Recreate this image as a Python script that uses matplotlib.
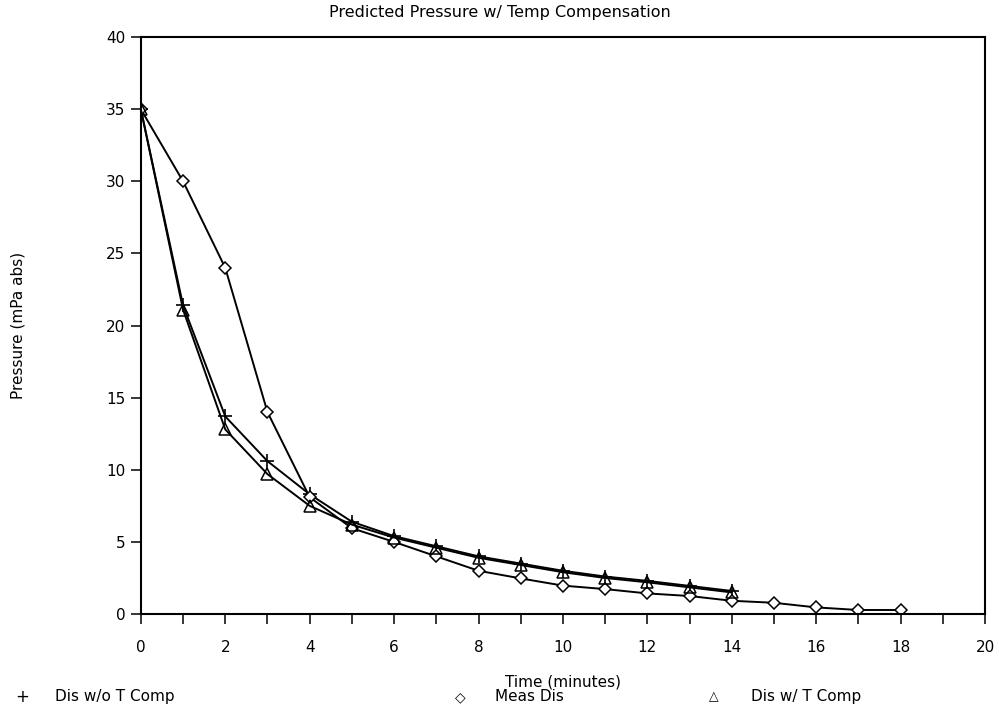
import matplotlib
matplotlib.use("Agg")
import matplotlib.pyplot as plt
from matplotlib.ticker import MultipleLocator

# Time (minutes)
t_meas = [0, 1, 2, 3, 4, 5, 6, 7, 8, 9, 10, 11, 12, 13, 14, 15, 16, 17, 18]
meas_dis = [35, 30, 24, 14, 8.1, 5.95, 5.0, 4.0, 3.0, 2.47, 1.97, 1.73, 1.43,
            1.25, 0.92, 0.78, 0.46, 0.28, 0.28]

t_pred = [0, 1, 2, 3, 4, 5, 6, 7, 8, 9, 10, 11, 12, 13, 14]
dis_no_comp = [35, 21.4, 13.7, 10.6, 8.3, 6.4, 5.4, 4.7, 4.0, 3.5, 3.0, 2.6,
               2.3, 1.95, 1.6]
dis_comp = [35, 21.1, 12.8, 9.7, 7.5, 6.2, 5.3, 4.6, 3.9, 3.4, 2.9, 2.5,
            2.2, 1.85, 1.5]

plt.rcParams['font.family'] = ['DejaVu Sans']

fig = plt.figure(figsize=(9.99, 7.14), dpi=100)
ax = fig.add_axes([0.141, 0.140, 0.845, 0.808])

ax.plot(t_pred, dis_no_comp, color='black', lw=1.4, marker='+', ms=10, mew=1.2)
ax.plot(t_meas, meas_dis, color='black', lw=1.4, marker='D', ms=6,
        mfc='white', mew=1.1)
ax.plot(t_pred, dis_comp, color='black', lw=1.4, marker='^', ms=8,
        mfc='none', mew=1.1)

ax.set_xlim(0, 20)
ax.set_ylim(0, 40)
ax.xaxis.set_major_locator(MultipleLocator(2))
ax.xaxis.set_minor_locator(MultipleLocator(1))
ax.yaxis.set_major_locator(MultipleLocator(5))
ax.tick_params(axis='both', which='both', direction='out', length=7, width=1.1,
               labelsize=11)
ax.tick_params(axis='x', pad=12)
ax.tick_params(axis='y', pad=4)
for s in ax.spines.values():
    s.set_linewidth(1.5)

ax.set_xlabel('Time (minutes)', fontsize=11, labelpad=14)
ax.set_ylabel('Pressure (mPa abs)', fontsize=11)
ax.yaxis.set_label_coords(-0.137, 0.5)
fig.text(0.5, 0.983, 'Predicted Pressure w/ Temp Compensation', ha='center',
         va='center', fontsize=11.5)

# legend row along the bottom
fig.text(0.015, 0.024, '+', fontsize=12, va='center')
fig.text(0.055, 0.024, 'Dis w/o T Comp', fontsize=11, va='center')
fig.text(0.455, 0.024, '\u25c7', fontsize=10, va='center')
fig.text(0.495, 0.024, 'Meas Dis', fontsize=11, va='center')
fig.text(0.71, 0.024, '\u25b3', fontsize=9, va='center')
fig.text(0.752, 0.024, 'Dis w/ T Comp', fontsize=11, va='center')

fig.savefig('out.png', dpi=100)
